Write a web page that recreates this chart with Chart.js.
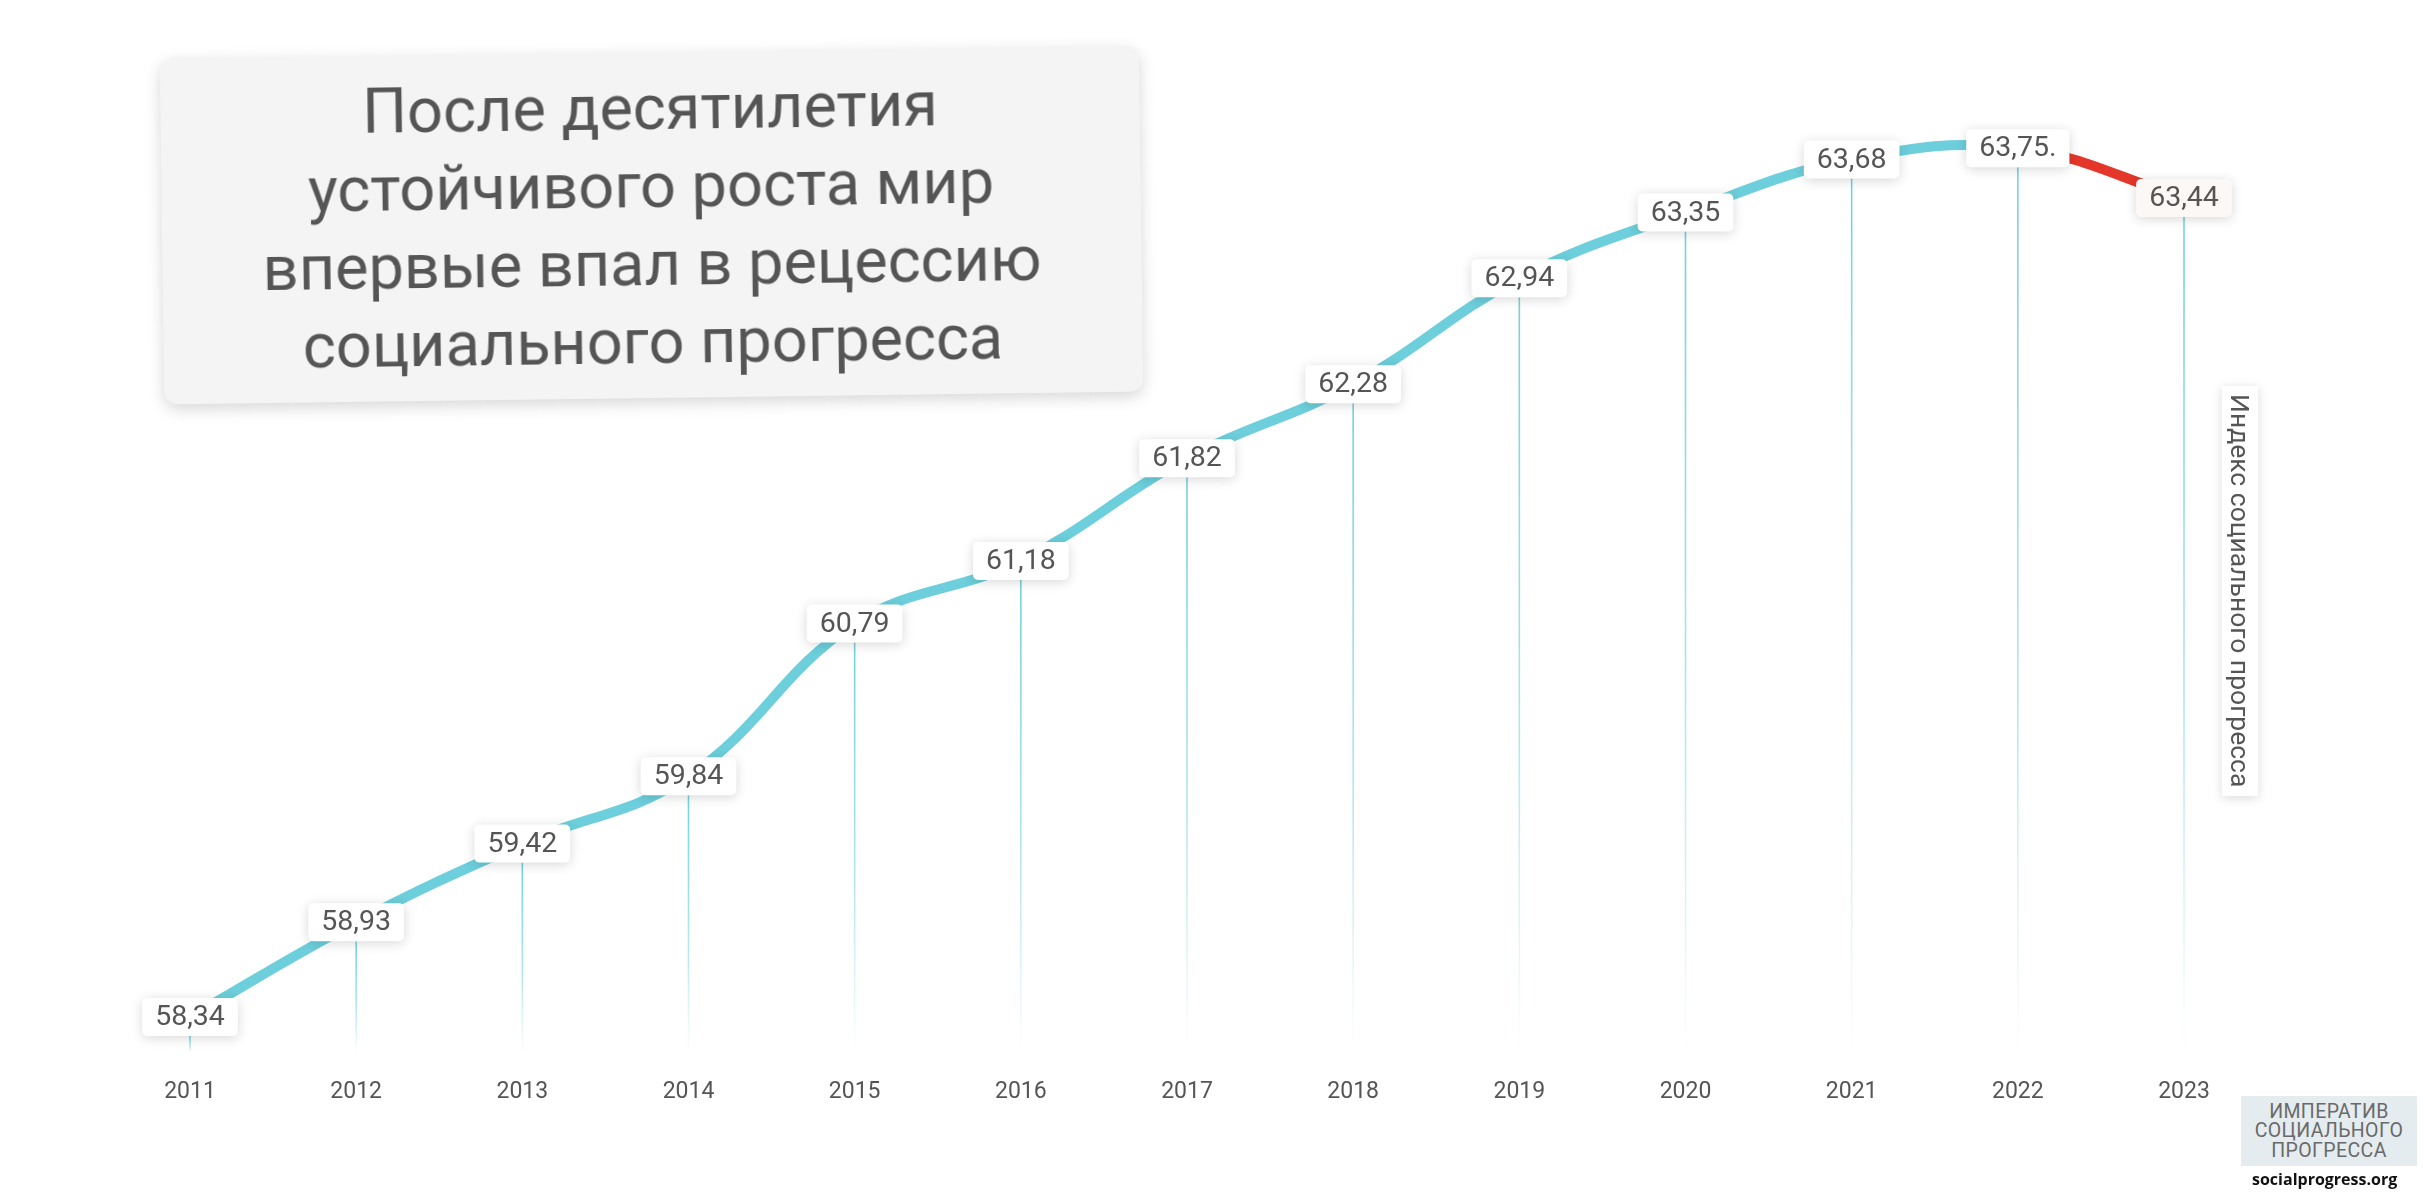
<!DOCTYPE html>
<html lang="ru">
<head>
<meta charset="utf-8">
<title>Индекс социального прогресса</title>
<script src="https://cdn.jsdelivr.net/npm/chart.js@4.4.1/dist/chart.umd.min.js"></script>
<style>
    body { margin: 0; background: #fff; width: 2424px; height: 1204px; overflow: hidden; position: relative; font-family: Roboto, "Noto Sans", sans-serif; }
    #spiChart { position: absolute; left: 0; top: 0; }
    .title-box {
        position: absolute; left: 162px; top: 52px; width: 979px; height: 346px;
        background: #f4f4f4; border-radius: 14px;
        box-shadow: 0 5px 16px rgba(0, 0, 0, 0.16);
        transform: rotate(-0.75deg);
        display: flex; align-items: center; justify-content: center;
        text-align: center; color: #555; font-size: 63px; line-height: 78px;
    }
    .side-label {
        position: absolute; left: 2222px; top: 386px; width: 36px; height: 410px;
        background: #fff; box-shadow: 0 2px 10px rgba(0, 0, 0, 0.15);
        writing-mode: vertical-rl; display: flex; align-items: center; justify-content: center;
        color: #555; font-size: 26.5px; line-height: 36px;
    }
    .logo {
        position: absolute; left: 2241px; top: 1096px; width: 176px; height: 70px;
        background: #e4ecef; color: #6a6a6a; text-align: center;
        font-size: 19.5px; line-height: 19.5px; letter-spacing: 0.4px;
        display: flex; align-items: center; justify-content: center;
    }
    .site {
        position: absolute; left: 2252px; top: 1168px; color: #111;
        font-family: "Open Sans", sans-serif; font-weight: 700; font-size: 16px;
    }
</style>
</head>
<body>
<canvas id="spiChart" width="2424" height="1204"></canvas>
<div class="title-box">После десятилетия<br>устойчивого роста мир<br>впервые впал в рецессию<br>социального прогресса</div>
<div class="side-label">Индекс социального прогресса</div>
<div class="logo">ИМПЕРАТИВ<br>СОЦИАЛЬНОГО<br>ПРОГРЕССА</div>
<div class="site">socialprogress.org</div>
<script>
    // Данные
    const years = ["2011", "2012", "2013", "2014", "2015", "2016", "2017", "2018", "2019", "2020", "2021", "2022", "2023"];
    const spiValues = [58.34, 58.93, 59.42, 59.84, 60.79, 61.18, 61.82, 62.28, 62.94, 63.35, 63.68, 63.75, 63.44];
    const pointLabels = ["58,34", "58,93", "59,42", "59,84", "60,79", "61,18", "61,82", "62,28", "62,94", "63,35", "63,68", "63,75.", "63,44"];

    const CYAN = "#6ccfdb";
    const RED = "#e5362a";
    const BOX_H = 38;

    // вертикальные линии от подписи вниз
    const dropLines = {
        id: "dropLines",
        beforeDatasetsDraw(chart) {
            const ctx = chart.ctx;
            const bottom = chart.chartArea.bottom;
            chart.getDatasetMeta(0).data.forEach(pt => {
                const top = pt.y + BOX_H / 2;
                const grad = ctx.createLinearGradient(0, top, 0, bottom);
                grad.addColorStop(0, "rgba(108, 207, 219, 0.95)");
                grad.addColorStop(0.6, "rgba(108, 207, 219, 0.5)");
                grad.addColorStop(1, "rgba(108, 207, 219, 0)");
                ctx.save();
                ctx.strokeStyle = grad;
                ctx.lineWidth = 1.6;
                ctx.beginPath();
                ctx.moveTo(pt.x, top);
                ctx.lineTo(pt.x, bottom);
                ctx.stroke();
                ctx.restore();
            });
        }
    };

    // подписи значений в белых плашках
    const valueBoxes = {
        id: "valueBoxes",
        afterDatasetsDraw(chart) {
            const ctx = chart.ctx;
            ctx.save();
            ctx.font = "28.5px Roboto, 'Noto Sans', sans-serif";
            ctx.textAlign = "center";
            ctx.textBaseline = "middle";
            chart.getDatasetMeta(0).data.forEach((pt, i) => {
                const text = pointLabels[i];
                const w = ctx.measureText(text).width + 26;
                const x = pt.x - w / 2;
                const y = pt.y - BOX_H / 2;
                ctx.save();
                ctx.shadowColor = "rgba(0, 0, 0, 0.16)";
                ctx.shadowBlur = 12;
                ctx.shadowOffsetY = 2;
                ctx.fillStyle = i === years.length - 1 ? "#fcf8f6" : "#ffffff";
                ctx.beginPath();
                ctx.roundRect(x, y, w, BOX_H, 5);
                ctx.fill();
                ctx.restore();
                ctx.fillStyle = "#555555";
                ctx.fillText(text, pt.x, pt.y + 1);
            });
            ctx.restore();
        }
    };

    new Chart(document.getElementById("spiChart"), {
        type: "line",
        data: {
            labels: years,
            datasets: [{
                label: "Индекс социального прогресса",
                data: spiValues,
                borderColor: CYAN,
                borderWidth: 10,
                borderCapStyle: "butt",
                tension: 0.4,
                pointRadius: 0,
                fill: false,
                segment: {
                    borderColor: c => c.p1.parsed.y < c.p0.parsed.y ? RED : CYAN
                }
            }]
        },
        options: {
            responsive: false,
            animation: false,
            layout: { autoPadding: false, padding: { left: 190, right: 240, top: 100, bottom: 80 } },
            plugins: { legend: { display: false }, tooltip: { enabled: false } },
            scales: {
                x: {
                    grid: { display: false },
                    border: { display: false },
                    ticks: { color: "#555", padding: 18, font: { size: 23, family: "Roboto" } }
                },
                y: { display: false, min: 58.12, max: 64.05 }
            }
        },
        plugins: [dropLines, valueBoxes]
    });
</script>
</body>
</html>
